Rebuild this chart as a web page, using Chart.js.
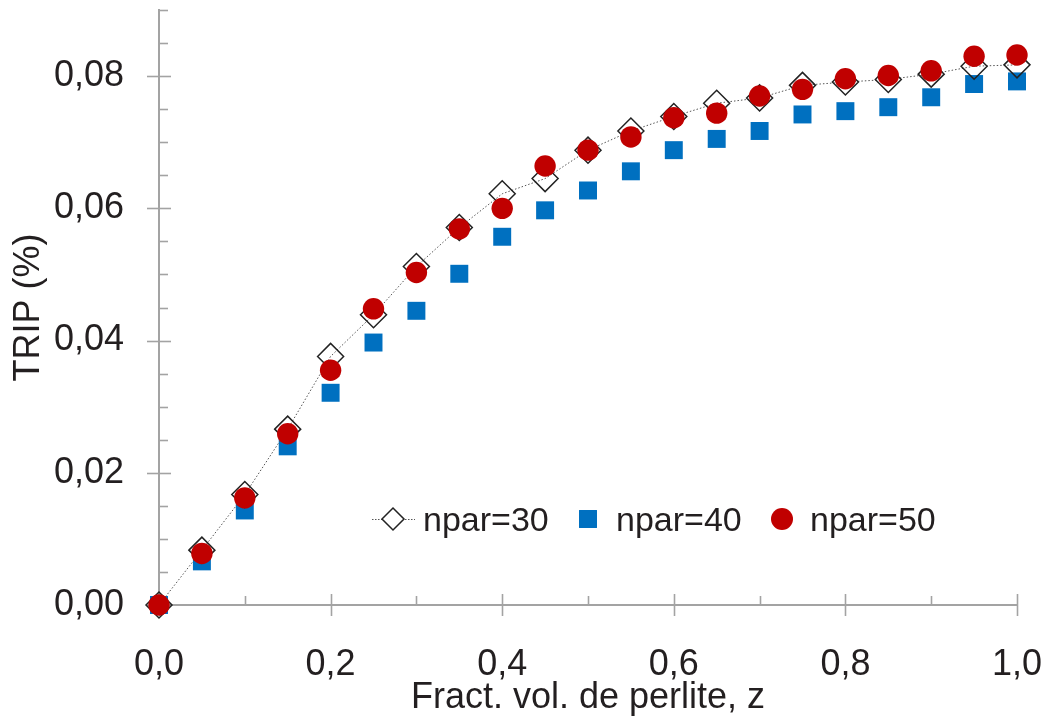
<!DOCTYPE html>
<html>
<head>
<meta charset="utf-8">
<script src="https://cdn.jsdelivr.net/npm/chart.js@4.4.1/dist/chart.umd.min.js"></script>
<style>
  html, body { margin: 0; padding: 0; background: #fff; }
  #wrap { width: 1048px; height: 717px; }
</style>
</head>
<body>
<div id="wrap"><canvas id="tripChart" width="1048" height="717"></canvas></div>
<script>
// === Data ===
const zValues = [0, 0.05, 0.1, 0.15, 0.2, 0.25, 0.3, 0.35, 0.4, 0.45, 0.5,
                 0.55, 0.6, 0.65, 0.7, 0.75, 0.8, 0.85, 0.9, 0.95, 1.0];
const npar30 = [0, 0.0083, 0.0167, 0.0266, 0.0376, 0.0439, 0.0512, 0.0571, 0.0622, 0.0645, 0.0688,
                0.0717, 0.0739, 0.0759, 0.0767, 0.0786, 0.0791, 0.0795, 0.0803, 0.0815, 0.0817];
const npar40 = [0, 0.0066, 0.0143, 0.0240, 0.0321, 0.0397, 0.0445, 0.0501, 0.0557, 0.0597, 0.0627,
                0.0656, 0.0688, 0.0705, 0.0717, 0.0742, 0.0747, 0.0753, 0.0768, 0.0788, 0.0792];
const npar50 = [0, 0.0078, 0.0162, 0.0259, 0.0355, 0.0448, 0.0503, 0.0569, 0.0600, 0.0664, 0.0688,
                0.0708, 0.0737, 0.0744, 0.0770, 0.0780, 0.0796, 0.0801, 0.0808, 0.0830, 0.0832];
const seriesLabels = ["npar=30", "npar=40", "npar=50"];
const xTitle = "Fract. vol. de perlite, z";
const yTitle = "TRIP (%)";

const textColor = "#231f20";
const axisColor = "#a3a3a3";
const fontFamily = "'Liberation Sans', Arial, sans-serif";
const tickFont = { family: fontFamily, size: 36 };
const titleFont = { family: fontFamily, size: 36 };
const legendFontSize = 34;

const toPoints = arr => arr.map((v, i) => ({ x: zValues[i], y: v }));

// x labels every 0.2, y labels every 0.02
const isMajorX = v => Math.round(v * 10) % 2 === 0;
const isMajorY = v => Math.round(v * 1000) % 20 === 0;

// === Tick marks (major cross the axis, minor sit inside) ===
const tickMarks = {
  id: "tickMarks",
  beforeDatasetsDraw(chart) {
    const { ctx, scales: { x, y } } = chart;
    ctx.save();
    ctx.strokeStyle = axisColor;
    ctx.lineWidth = 1.6;
    x.ticks.forEach(t => {
      const px = Math.round(x.getPixelForValue(t.value)) + 0.5;
      ctx.beginPath();
      if (isMajorX(t.value)) {
        ctx.moveTo(px, y.bottom - 11);
        ctx.lineTo(px, y.bottom + 11);
      } else {
        ctx.moveTo(px, y.bottom - 9);
        ctx.lineTo(px, y.bottom);
      }
      ctx.stroke();
    });
    y.ticks.forEach(t => {
      const py = Math.round(y.getPixelForValue(t.value)) + 0.5;
      ctx.beginPath();
      if (isMajorY(t.value) && t.value < 0.085) {
        ctx.moveTo(x.left - 12, py);
        ctx.lineTo(x.left + 12, py);
      } else {
        ctx.moveTo(x.left, py);
        ctx.lineTo(x.left + 9, py);
      }
      ctx.stroke();
    });
    ctx.restore();
  }
};

// === Legend drawn inside the plot area ===
const innerLegend = {
  id: "innerLegend",
  afterDraw(chart) {
    const { ctx } = chart;
    const legendY = 519;
    const markX = [393, 588, 782];
    const textX = [423, 616, 810];
    const styles = [
      { pointStyle: "rectRot", radius: 11, borderWidth: 1.5, rotation: 0 },
      { pointStyle: "rect", radius: 12.7, borderWidth: 0, rotation: 0 },
      { pointStyle: "circle", radius: 11, borderWidth: 0, rotation: 0 }
    ];
    const fills = ["rgba(255,255,255,1)", "#0070c0", "#c00000"];
    const strokes = ["#222222", "#0070c0", "#c00000"];
    ctx.save();
    // dotted line through the diamond
    ctx.strokeStyle = "#555";
    ctx.lineWidth = 1;
    ctx.setLineDash([1.5, 1.5]);
    ctx.beginPath();
    ctx.moveTo(372, legendY + 0.5);
    ctx.lineTo(415, legendY + 0.5);
    ctx.stroke();
    ctx.setLineDash([]);
    seriesLabels.forEach((lab, i) => {
      ctx.fillStyle = fills[i];
      ctx.strokeStyle = strokes[i];
      ctx.lineWidth = styles[i].borderWidth || 0.01;
      Chart.helpers.drawPoint(ctx, styles[i], markX[i], legendY);
      ctx.fillStyle = textColor;
      ctx.font = legendFontSize + "px " + fontFamily;
      ctx.textBaseline = "alphabetic";
      ctx.textAlign = "left";
      ctx.fillText(lab, textX[i], 531);
    });
    ctx.restore();
  }
};

new Chart(document.getElementById("tripChart"), {
  type: "scatter",
  data: {
    datasets: [
      {
        label: seriesLabels[0],
        data: toPoints(npar30),
        showLine: true,
        borderColor: "#555555",
        borderWidth: 1,
        borderDash: [1.5, 2],
        pointStyle: "rectRot",
        pointRadius: 13,
        pointBorderWidth: 1.5,
        pointBorderColor: "#222222",
        pointBackgroundColor: "rgba(255,255,255,0)",
        order: 1
      },
      {
        label: seriesLabels[1],
        data: toPoints(npar40),
        pointStyle: "rect",
        pointRadius: 12.7,
        pointBorderWidth: 0,
        pointBackgroundColor: "#0070c0",
        pointBorderColor: "#0070c0",
        order: 2
      },
      {
        label: seriesLabels[2],
        data: toPoints(npar50),
        pointStyle: "circle",
        pointRadius: 10.7,
        pointBorderWidth: 0,
        pointBackgroundColor: "#c00000",
        pointBorderColor: "#c00000",
        order: 0
      }
    ]
  },
  options: {
    responsive: false,
    animation: false,
    clip: false,
    layout: { autoPadding: false, padding: { top: 10, right: 31, left: 0, bottom: 0 } },
    plugins: {
      legend: { display: false },
      tooltip: { enabled: false }
    },
    scales: {
      x: {
        type: "linear",
        min: 0,
        max: 1,
        afterFit: s => { s.height = 112; s.paddingLeft = 0; s.paddingRight = 0; },
        grid: { display: false, drawTicks: false },
        border: { display: true, color: axisColor, width: 2 },
        ticks: {
          stepSize: 0.1,
          autoSkip: false,
          maxRotation: 0,
          padding: 38,
          color: textColor,
          font: tickFont,
          callback: v => isMajorX(v) ? v.toFixed(1).replace(".", ",") : ""
        },
        title: {
          display: true,
          text: xTitle,
          color: textColor,
          font: titleFont,
          padding: { top: 0, bottom: -3 }
        }
      },
      y: {
        type: "linear",
        min: 0,
        max: 0.09,
        afterFit: s => { s.width = 159; s.paddingTop = 0; s.paddingBottom = 0; },
        grid: { display: false, drawTicks: false },
        border: { display: true, color: axisColor, width: 2 },
        ticks: {
          stepSize: 0.005,
          autoSkip: false,
          padding: 35,
          color: textColor,
          font: tickFont,
          callback: v => (isMajorY(v) && v < 0.085) ? v.toFixed(2).replace(".", ",") : ""
        },
        title: {
          display: true,
          text: yTitle,
          color: textColor,
          font: titleFont,
          padding: { top: 7, bottom: 0 }
        }
      }
    }
  },
  plugins: [tickMarks, innerLegend]
});
</script>
</body>
</html>
